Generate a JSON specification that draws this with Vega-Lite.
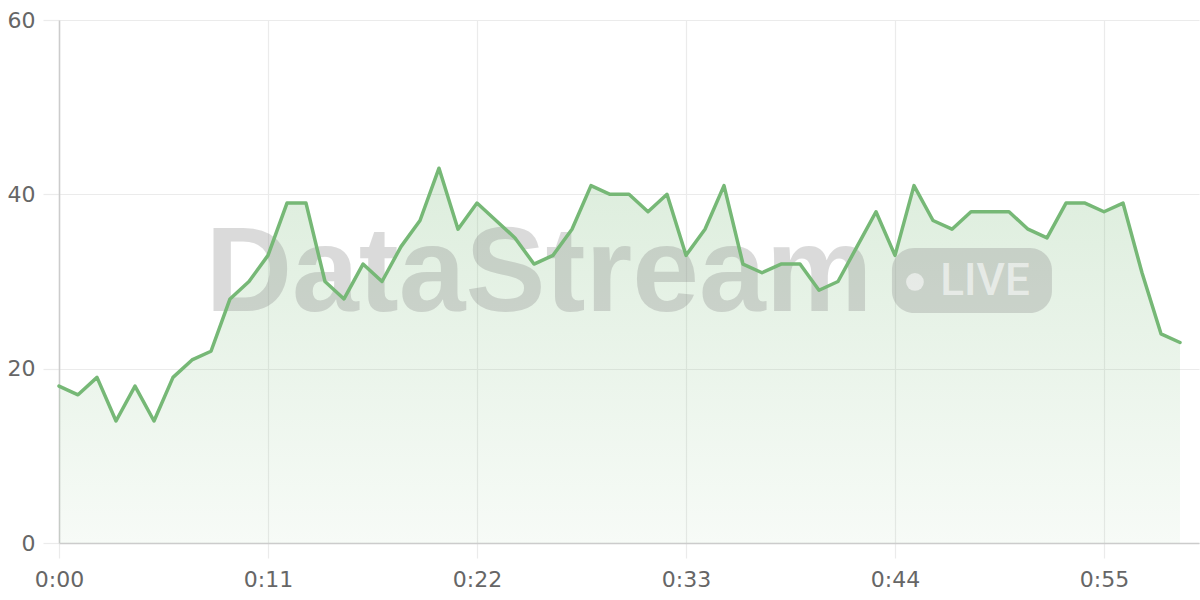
{
  "$schema": "https://vega.github.io/schema/vega-lite/v6.json",
  "width": 1140,
  "height": 523,
  "autosize": "none",
  "padding": {"left": 59, "top": 20, "right": 1, "bottom": 57},
  "background": "#ffffff",
  "config": {"view": {"stroke": null}, "font": "DejaVu Sans"},
  "data": {"values": [
    {"t": 0, "v": 18}, {"t": 1, "v": 17}, {"t": 2, "v": 19}, {"t": 3, "v": 14}, {"t": 4, "v": 18},
    {"t": 5, "v": 14}, {"t": 6, "v": 19}, {"t": 7, "v": 21}, {"t": 8, "v": 22}, {"t": 9, "v": 28},
    {"t": 10, "v": 30}, {"t": 11, "v": 33}, {"t": 12, "v": 39}, {"t": 13, "v": 39}, {"t": 14, "v": 30},
    {"t": 15, "v": 28}, {"t": 16, "v": 32}, {"t": 17, "v": 30}, {"t": 18, "v": 34}, {"t": 19, "v": 37},
    {"t": 20, "v": 43}, {"t": 21, "v": 36}, {"t": 22, "v": 39}, {"t": 23, "v": 37}, {"t": 24, "v": 35},
    {"t": 25, "v": 32}, {"t": 26, "v": 33}, {"t": 27, "v": 36}, {"t": 28, "v": 41}, {"t": 29, "v": 40},
    {"t": 30, "v": 40}, {"t": 31, "v": 38}, {"t": 32, "v": 40}, {"t": 33, "v": 33}, {"t": 34, "v": 36},
    {"t": 35, "v": 41}, {"t": 36, "v": 32}, {"t": 37, "v": 31}, {"t": 38, "v": 32}, {"t": 39, "v": 32},
    {"t": 40, "v": 29}, {"t": 41, "v": 30}, {"t": 42, "v": 34}, {"t": 43, "v": 38}, {"t": 44, "v": 33},
    {"t": 45, "v": 41}, {"t": 46, "v": 37}, {"t": 47, "v": 36}, {"t": 48, "v": 38}, {"t": 49, "v": 38},
    {"t": 50, "v": 38}, {"t": 51, "v": 36}, {"t": 52, "v": 35}, {"t": 53, "v": 39}, {"t": 54, "v": 39},
    {"t": 55, "v": 38}, {"t": 56, "v": 39}, {"t": 57, "v": 31}, {"t": 58, "v": 24}, {"t": 59, "v": 23}
  ]},
  "layer": [
    {
      "mark": {
        "type": "area",
        "color": {
          "gradient": "linear", "x1": 0, "y1": 0, "x2": 0, "y2": 1,
          "stops": [
            {"offset": 0, "color": "rgba(118,184,118,0.25)"},
            {"offset": 1, "color": "rgba(118,184,118,0.06)"}
          ]
        }
      },
      "encoding": {
        "x": {
          "field": "t", "type": "quantitative",
          "scale": {"domain": [0, 60], "nice": false, "zero": false},
          "axis": {
            "title": null, "values": [0, 11, 22, 33, 44, 55],
            "labelExpr": "'0:' + (datum.value < 10 ? '0' + datum.value : datum.value)",
            "grid": true, "gridColor": "#ebebeb", "gridWidth": 1.2,
            "domainColor": "#cccccc", "domainWidth": 1.5,
            "tickColor": "#ebebeb", "tickSize": 15, "tickWidth": 1.2,
            "labelFontSize": 22, "labelColor": "#666666", "labelPadding": 11,
            "labelFlush": false
          }
        },
        "y": {
          "field": "v", "type": "quantitative",
          "scale": {"domain": [0, 60], "nice": false},
          "axis": {
            "title": null, "values": [0, 20, 40, 60],
            "grid": true, "gridColor": "#ebebeb", "gridWidth": 1.2,
            "domainColor": "#cccccc", "domainWidth": 1.5,
            "tickColor": "#ebebeb", "tickSize": 16, "tickWidth": 1.2,
            "labelFontSize": 22, "labelColor": "#666666", "labelPadding": 8
          }
        }
      }
    },
    {
      "data": {"values": [{"label": "DataStream"}]},
      "mark": {"type": "text", "font": "Liberation Sans", "fontWeight": "bold", "fontSize": 120, "align": "center", "baseline": "alphabetic", "color": "#888888", "opacity": 0.3},
      "encoding": {
        "x": {"datum": 25.26, "type": "quantitative"},
        "y": {"datum": 26.6, "type": "quantitative"},
        "text": {"field": "label"}
      }
    },
    {
      "data": {"values": [{"label": "LIVE"}]},
      "mark": {"type": "rect", "color": "#888888", "opacity": 0.3, "cornerRadius": 22},
      "encoding": {
        "x": {"datum": 43.84, "type": "quantitative"},
        "x2": {"datum": 52.26},
        "y": {"datum": 33.84, "type": "quantitative"},
        "y2": {"datum": 26.39}
      }
    },
    {
      "data": {"values": [{"label": "LIVE"}]},
      "mark": {"type": "point", "filled": true, "shape": "circle", "size": 314, "color": "#ffffff", "opacity": 0.55},
      "encoding": {
        "x": {"datum": 45.05, "type": "quantitative"},
        "y": {"datum": 29.95, "type": "quantitative"}
      }
    },
    {
      "data": {"values": [{"label": "LIVE"}]},
      "mark": {"type": "text", "font": "Roboto", "fontWeight": 500, "fontSize": 44, "align": "center", "baseline": "alphabetic", "color": "#ffffff", "opacity": 0.55},
      "encoding": {
        "x": {"datum": 48.74, "type": "quantitative"},
        "y": {"datum": 28.45, "type": "quantitative"},
        "text": {"field": "label"}
      }
    },
    {
      "mark": {"type": "line", "color": "#76b876", "strokeWidth": 3.5, "strokeJoin": "round", "strokeCap": "round"},
      "encoding": {
        "x": {"field": "t", "type": "quantitative"},
        "y": {"field": "v", "type": "quantitative"}
      }
    }
  ]
}
